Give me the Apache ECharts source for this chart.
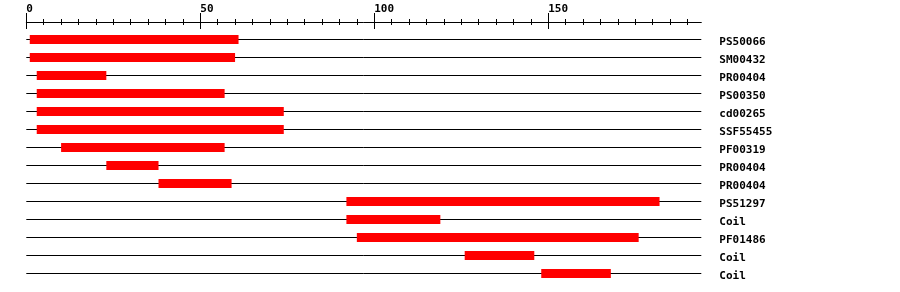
<!DOCTYPE html>
<html>
<head>
<meta charset="utf-8">
<script src="https://cdn.jsdelivr.net/npm/echarts@6/dist/echarts.min.js"></script>
<style>html,body{margin:0;padding:0;background:#fff}#c{width:900px;height:292px}</style>
</head>
<body>
<div id="c"></div>
<script>
var rowLabels = ["PS50066","SM00432","PR00404","PS00350","cd00265","SSF55455","PF00319","PR00404","PR00404","PS51297","Coil","PF01486","Coil","Coil"];
var starts = [1, 1, 3, 3, 3, 3, 10, 23, 38, 92, 92, 95, 126, 148];
var ends   = [61, 60, 23, 57, 74, 74, 57, 38, 59, 182, 119, 176, 146, 168];
var seqLength = 194;
var majorTicks = [0, 50, 100, 150];
var minorTicks = [5,10,15,20,25,30,35,40,45,55,60,65,70,75,80,85,90,95,105,110,115,120,125,130,135,140,145,155,160,165,170,175,180,185,190];

var data = rowLabels.map(function (n, i) { return [starts[i], ends[i], i]; });
var FONT = '"DejaVu Sans Mono", monospace';

var chart = echarts.init(document.getElementById('c'), null, {renderer: 'canvas'});
chart.setOption({
  animation: false,
  backgroundColor: '#ffffff',
  grid: {left: 26.3, top: 30.5, width: 675, height: 252, containLabel: false},
  xAxis: [
    {
      type: 'value', position: 'top', min: 0, max: seqLength, offset: 8,
      axisLine: {show: true, lineStyle: {color: '#000', width: 1}},
      axisTick: {show: false},
      splitLine: {show: false},
      axisLabel: {show: true, customValues: majorTicks, align: 'left', margin: 8,
        color: '#000', fontFamily: FONT, fontWeight: 'bold', fontSize: 11}
    },
    {
      type: 'value', position: 'top', min: 0, max: seqLength, offset: 1.5,
      axisLine: {show: false},
      axisTick: {show: true, customValues: majorTicks, length: 16, lineStyle: {color: '#000', width: 1}},
      axisLabel: {show: false},
      splitLine: {show: false}
    },
    {
      type: 'value', position: 'top', min: 0, max: seqLength, offset: 5.5,
      axisLine: {show: false},
      axisTick: {show: true, customValues: minorTicks, length: 6, lineStyle: {color: '#000', width: 1}},
      axisLabel: {show: false},
      splitLine: {show: false}
    }
  ],
  yAxis: {
    type: 'category', data: rowLabels, inverse: true, position: 'right',
    axisLine: {show: false}, axisTick: {show: false}, splitLine: {show: false},
    axisLabel: {margin: 18, align: 'left', verticalAlign: 'middle',
      formatter: function (v) { return '{t|' + v + '}'; },
      rich: {t: {color: '#000', fontFamily: FONT, fontWeight: 'bold', fontSize: 11, padding: [5, 0, 0, 0]}}}
  },
  series: [{
    type: 'custom',
    xAxisIndex: 0,
    clip: false,
    data: data,
    encode: {x: [0, 1], y: 2},
    renderItem: function (params, api) {
      var idx = api.value(2);
      var p0 = api.coord([0, idx]);
      var pEnd = api.coord([seqLength, idx]);
      var a = api.coord([api.value(0), idx]);
      var b = api.coord([api.value(1), idx]);
      var cy = p0[1];
      return {
        type: 'group',
        children: [
          {type: 'line', shape: {x1: p0[0], y1: cy, x2: pEnd[0], y2: cy}, style: {stroke: '#000', lineWidth: 1}},
          {type: 'rect', shape: {x: a[0], y: cy - 4.5, width: b[0] - a[0], height: 9}, style: {fill: '#ff0000'}}
        ]
      };
    }
  }]
});
</script>
</body>
</html>
